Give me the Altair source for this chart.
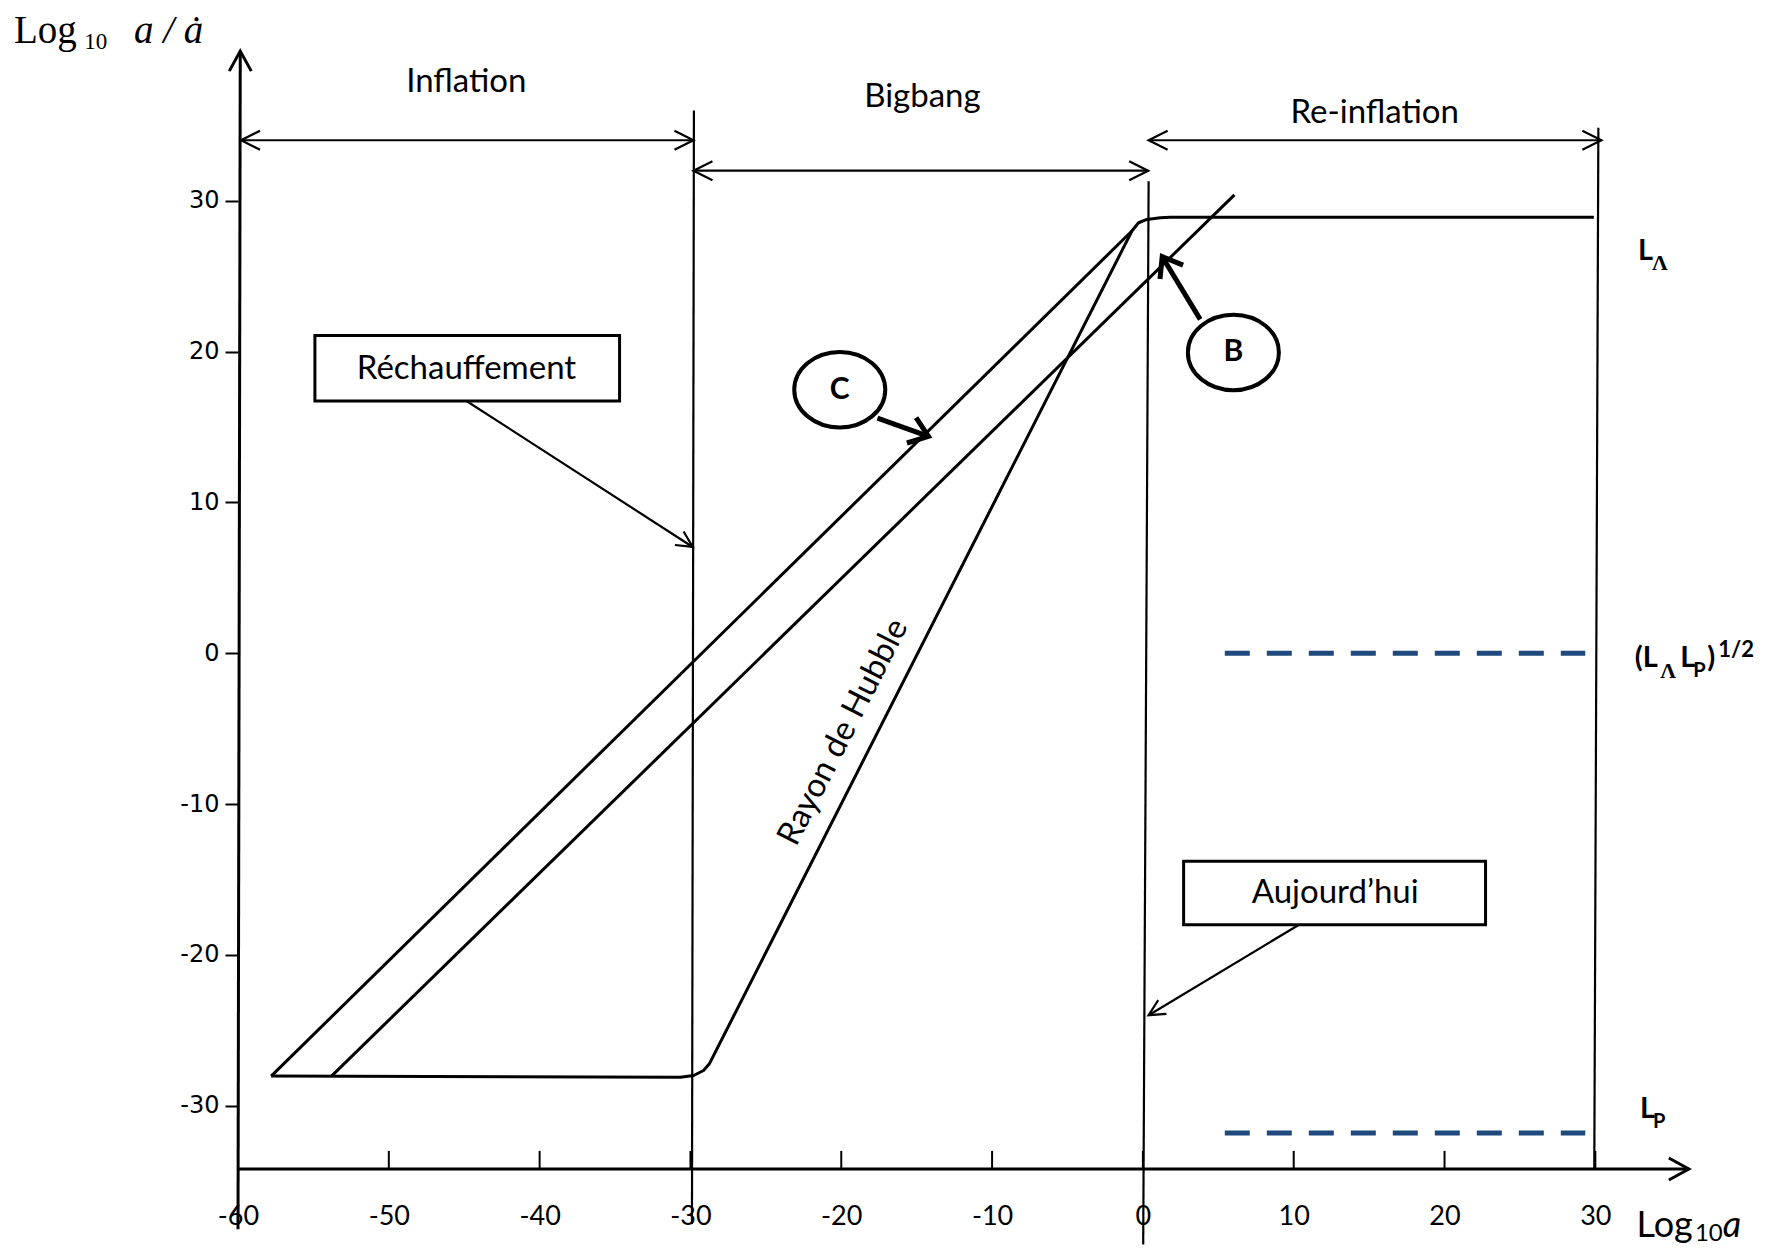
import math
import altair as alt
import pandas as pd

# ------------------------------------------------------------------ data (units of the axes)
x_tick_values = [-60, -50, -40, -30, -20, -10, 0, 10, 20, 30]
y_tick_values = [-30, -20, -10, 0, 10, 20, 30]

# Rayon de Hubble : palier bas, montée, palier haut
hubble_x = [-57.8, -30.67, -29.79, -29.13, -28.73, -0.73, -0.29, 0.27, 1.15, 1.81, 29.9]
hubble_y = [-28.04, -28.12, -28.0, -27.67, -27.2, 28.0, 28.55, 28.77, 28.88, 28.92, 28.92]
# Droite (C)
line_c_x = [-57.8, -0.73]
line_c_y = [-28.04, 28.0]
# Droite (B)
line_b_x = [-53.8, 6.07]
line_b_y = [-28.04, 30.4]

# Frontières verticales des ères (bas, haut)
bound_x = [[-29.9, -29.77], [0.02, 0.38], [29.93, 30.2]]
bound_y = [[-37.85, 36.0], [-39.2, 31.3], [-34.2, 34.85]]

# Ères : flèches doubles et étiquettes
era_names = ["Inflation", "Bigbang", "Re-inflation"]
era_from = [-59.8, -29.8, 0.38]
era_to = [-29.8, 0.35, 30.4]
era_arrow_y = [34.02, 32.0, 34.02]
era_label_x = [-44.86, -14.62, 15.37]
era_label_y = [37.88, 36.9, 35.86]

# Niveaux en tirets
level_y = [0.0, -31.82]
level_from = [5.43, 5.43]
level_to = [29.33, 29.33]

# Axes
axis_x_level = -34.2
x_axis_end = 36.2
y_axis_top = 39.93
y_axis_bottom = -38.2
x_tick_len = 1.2

# Encadrés + flèches
box_texts = ["Réchauffement", "Aujourd\u2019hui"]
box_x1 = [-54.9, 2.7]
box_x2 = [-34.7, 22.72]
box_y1 = [21.08, -13.8]
box_y2 = [16.73, -18.0]
box_tx = [-44.85, 12.75]
box_ty = [18.83, -15.9]
ptr_x0 = [-44.85, 10.35]
ptr_y0 = [16.73, -18.0]
ptr_x1 = [-29.85, 0.38]
ptr_y1 = [7.05, -24.0]

# Bulles C et B
bubble_texts = ["C", "B"]
bubble_x = [-20.1, 6.0]
bubble_y = [17.48, 19.95]
bub_x0 = [-17.6, 3.8]
bub_y0 = [15.6, 22.14]
bub_x1 = [-14.22, 1.28]
bub_y1 = [14.38, 26.3]

# Étiquette le long du rayon de Hubble
hubble_label = "Rayon de Hubble"
hubble_label_x = -19.87
hubble_label_y = -5.24

# ------------------------------------------------------------------ helpers
xs = alt.Scale(domain=[-60, 38], nice=False, zero=False)
ys = alt.Scale(domain=[-34.2, 41], nice=False, zero=False)
x_axis = alt.Axis(values=x_tick_values, ticks=False, domain=False, grid=False, title=None,
                  labelFont="Lato", labelFontSize=27, labelPadding=34, labelFlush=False,
                  labelOverlap=False, labelColor="black", labelAngle=0,
                  labelExpr="'' + datum.value")
y_axis = alt.Axis(values=y_tick_values, tickSize=13, tickWidth=2, tickColor="black",
                  domain=False, grid=False, title=None, labelFont="DejaVu Sans",
                  labelFontSize=24, labelPadding=6, labelColor="black",
                  labelExpr="'' + datum.value")


def X(f="x"):
    return alt.X(f"{f}:Q", scale=xs, axis=x_axis)


def Y(f="y"):
    return alt.Y(f"{f}:Q", scale=ys, axis=y_axis)


def seg(name, xs_, ys_):
    return [{"seg": name, "o": i, "x": a, "y": b} for i, (a, b) in enumerate(zip(xs_, ys_))]


def head(x0, y0, x1, y1):
    ang = math.degrees(math.atan2(-(y1 - y0), x1 - x0)) % 360
    return {"x": x1, "y": y1, "angle": ang}


def lines(rows, width, color="black", dash=None, join="miter"):
    kw = dict(strokeWidth=width, color=color, strokeCap="butt", strokeJoin=join)
    if dash:
        kw["strokeDash"] = dash
    return alt.Chart(pd.DataFrame(rows)).mark_line(**kw).encode(
        x=X(), y=Y(), detail="seg:N", order="o:Q")


def heads(rows, path, size, width):
    return alt.Chart(pd.DataFrame(rows)).mark_point(
        shape=path, size=size, filled=False, stroke="black", strokeWidth=width,
        opacity=1, strokeJoin="miter").encode(
        x=X(), y=Y(), angle=alt.Angle("angle:Q", scale=None))


def texts(rows, size, font="Lato", weight="normal", style="normal", align="center",
          baseline="middle", angle=0, color="black"):
    return alt.Chart(pd.DataFrame(rows)).mark_text(
        font=font, fontSize=size, fontWeight=weight, fontStyle=style, align=align,
        baseline=baseline, angle=angle, color=color).encode(x=X(), y=Y(), text="t:N")


# ------------------------------------------------------------------ layers
thick_rows = (seg("hubble", hubble_x, hubble_y) + seg("c", line_c_x, line_c_y)
              + seg("b", line_b_x, line_b_y)
              + seg("xaxis", [-60, x_axis_end], [axis_x_level, axis_x_level])
              + seg("yaxis", [-60, -59.85], [y_axis_bottom, y_axis_top]))

thin_rows = []
for i, (bx, by) in enumerate(zip(bound_x, bound_y)):
    thin_rows += seg(f"bound{i}", bx, by)
for i in range(len(era_names)):
    thin_rows += seg(f"era{i}", [era_from[i], era_to[i]], [era_arrow_y[i], era_arrow_y[i]])
for i in range(len(box_texts)):
    thin_rows += seg(f"ptr{i}", [ptr_x0[i], ptr_x1[i]], [ptr_y0[i], ptr_y1[i]])

bold_rows = []
for i in range(len(bubble_texts)):
    bold_rows += seg(f"bub{i}", [bub_x0[i], bub_x1[i]], [bub_y0[i], bub_y1[i]])

dash_rows = []
for i in range(len(level_y)):
    dash_rows += seg(f"lvl{i}", [level_from[i], level_to[i]], [level_y[i], level_y[i]])

tick_df = pd.DataFrame({"x": x_tick_values,
                        "y0": [axis_x_level] * len(x_tick_values),
                        "y1": [axis_x_level + x_tick_len] * len(x_tick_values)})
ticks = alt.Chart(tick_df).mark_rule(strokeWidth=2, color="black").encode(
    x=X(), y=Y("y0"), y2=alt.Y2("y1:Q"))

era_heads = []
for i in range(len(era_names)):
    era_heads.append(head(era_to[i], era_arrow_y[i], era_from[i], era_arrow_y[i]))
    era_heads.append(head(era_from[i], era_arrow_y[i], era_to[i], era_arrow_y[i]))
ptr_heads = [head(ptr_x0[i], ptr_y0[i], ptr_x1[i], ptr_y1[i]) for i in range(len(box_texts))]
axis_heads = [head(-60, axis_x_level, x_axis_end, axis_x_level),
              head(-59.85, y_axis_bottom, -59.85, y_axis_top)]
bub_heads = [head(bub_x0[i], bub_y0[i], bub_x1[i], bub_y1[i]) for i in range(len(bubble_texts))]

chev = "M-1,-0.5L0,0L-1,0.5"
chev_wide = "M-1,-0.55L0,0L-1,0.55"
chev_bold = "M-1,-0.75L0,0L-1,0.75"
ellipse = ("M-1,0C-1,-0.46,-0.55,-0.83,0,-0.83C0.55,-0.83,1,-0.46,1,0"
           "C1,0.46,0.55,0.83,0,0.83C-0.55,0.83,-1,0.46,-1,0Z")

box_df = pd.DataFrame({"x": box_x1, "x2": box_x2, "y": box_y1, "y2": box_y2})
boxes = alt.Chart(box_df).mark_rect(fill="white", stroke="black", strokeWidth=3).encode(
    x=X(), x2=alt.X2("x2:Q"), y=Y(), y2=alt.Y2("y2:Q"))

bubbles = alt.Chart(pd.DataFrame({"x": bubble_x, "y": bubble_y})).mark_point(
    shape=ellipse, size=8281, filled=True, fill="white", stroke="black", strokeWidth=4,
    opacity=1, fillOpacity=1, strokeOpacity=1).encode(x=X(), y=Y())

era_text = [{"x": a, "y": b, "t": t} for a, b, t in zip(era_label_x, era_label_y, era_names)]
box_text = [{"x": a, "y": b, "t": t} for a, b, t in zip(box_tx, box_ty, box_texts)]
bub_text = [{"x": a, "y": b, "t": t} for a, b, t in zip(bubble_x, bubble_y, bubble_texts)]
hub_angle = (360 - math.degrees(math.atan2(hubble_y[5] - hubble_y[4], hubble_x[5] - hubble_x[4]))) % 360
hub_text = [{"x": hubble_label_x, "y": hubble_label_y, "t": hubble_label}]

# symboles à droite (L_Λ, (L_Λ L_P)^1/2, L_P)
sym_main = [{"x": 32.82, "y": 26.07, "t": "L"}, {"x": 32.62, "y": -0.91, "t": "(L"},
            {"x": 35.63, "y": -0.91, "t": "L"}, {"x": 37.42, "y": -0.91, "t": ")"},
            {"x": 32.96, "y": -30.83, "t": "L"}]
sym_lambda = [{"x": 33.75, "y": 25.41, "t": "\u039b"}, {"x": 34.31, "y": -1.64, "t": "\u039b"}]
sym_p = [{"x": 36.49, "y": -1.57, "t": "P"}, {"x": 33.82, "y": -31.47, "t": "P"}]
sym_sup = [{"x": 38.15, "y": -0.25, "t": "1/2"}]

# titres des axes
ytitle_main = [{"x": -74.85, "y": 40.46, "t": "Log"}]
ytitle_sub = [{"x": -70.2, "y": 40.06, "t": "10"}]
ytitle_var = [{"x": -66.9, "y": 40.46, "t": "a / \u0227"}]
xtitle_main = [{"x": 32.73, "y": -38.69, "t": "Log"}]
xtitle_sub = [{"x": 36.6, "y": -38.96, "t": "10"}]
xtitle_var = [{"x": 38.45, "y": -38.69, "t": "a"}]

layers = [
    ticks,
    lines(thin_rows, 2.2),
    lines(thick_rows, 3, join="round"),
    lines(dash_rows, 5, color="#1F497D", dash=[25, 17]),
    lines(bold_rows, 5),
    heads(era_heads, chev, 1444, 2.2),
    heads(ptr_heads, chev, 1024, 2.2),
    heads(axis_heads, chev_wide, 1600, 3),
    heads(bub_heads, chev_bold, 1296, 5),
    boxes,
    bubbles,
    texts(era_text, 33),
    texts(box_text, 33),
    texts(bub_text, 30, weight="bold"),
    texts(hub_text, 33, angle=round(hub_angle, 1)),
    texts(sym_main, 29, weight="bold", align="left", baseline="alphabetic"),
    texts(sym_lambda, 22, font="Liberation Serif", weight="bold", align="left", baseline="alphabetic"),
    texts(sym_p, 20, weight="bold", align="left", baseline="alphabetic"),
    texts(sym_sup, 22, weight="bold", align="left", baseline="alphabetic"),
    texts(ytitle_main, 39, font="Liberation Serif", align="left", baseline="alphabetic"),
    texts(ytitle_sub, 23, font="Liberation Serif", align="left", baseline="alphabetic"),
    texts(ytitle_var, 39, font="Liberation Serif", style="italic", align="left", baseline="alphabetic"),
    texts(xtitle_main, 36, align="left", baseline="alphabetic"),
    texts(xtitle_sub, 24, align="left", baseline="alphabetic"),
    texts(xtitle_var, 36, style="italic", align="left", baseline="alphabetic"),
]

chart = alt.layer(*layers).properties(
    width=1478, height=1134,
    padding={"left": 230, "top": 27, "right": 48, "bottom": 77},
    autosize=alt.AutoSizeParams(type="none"),
    background="white",
).configure_view(stroke="transparent")

chart.save("out.html", embed_options={"renderer": "svg", "actions": False})
